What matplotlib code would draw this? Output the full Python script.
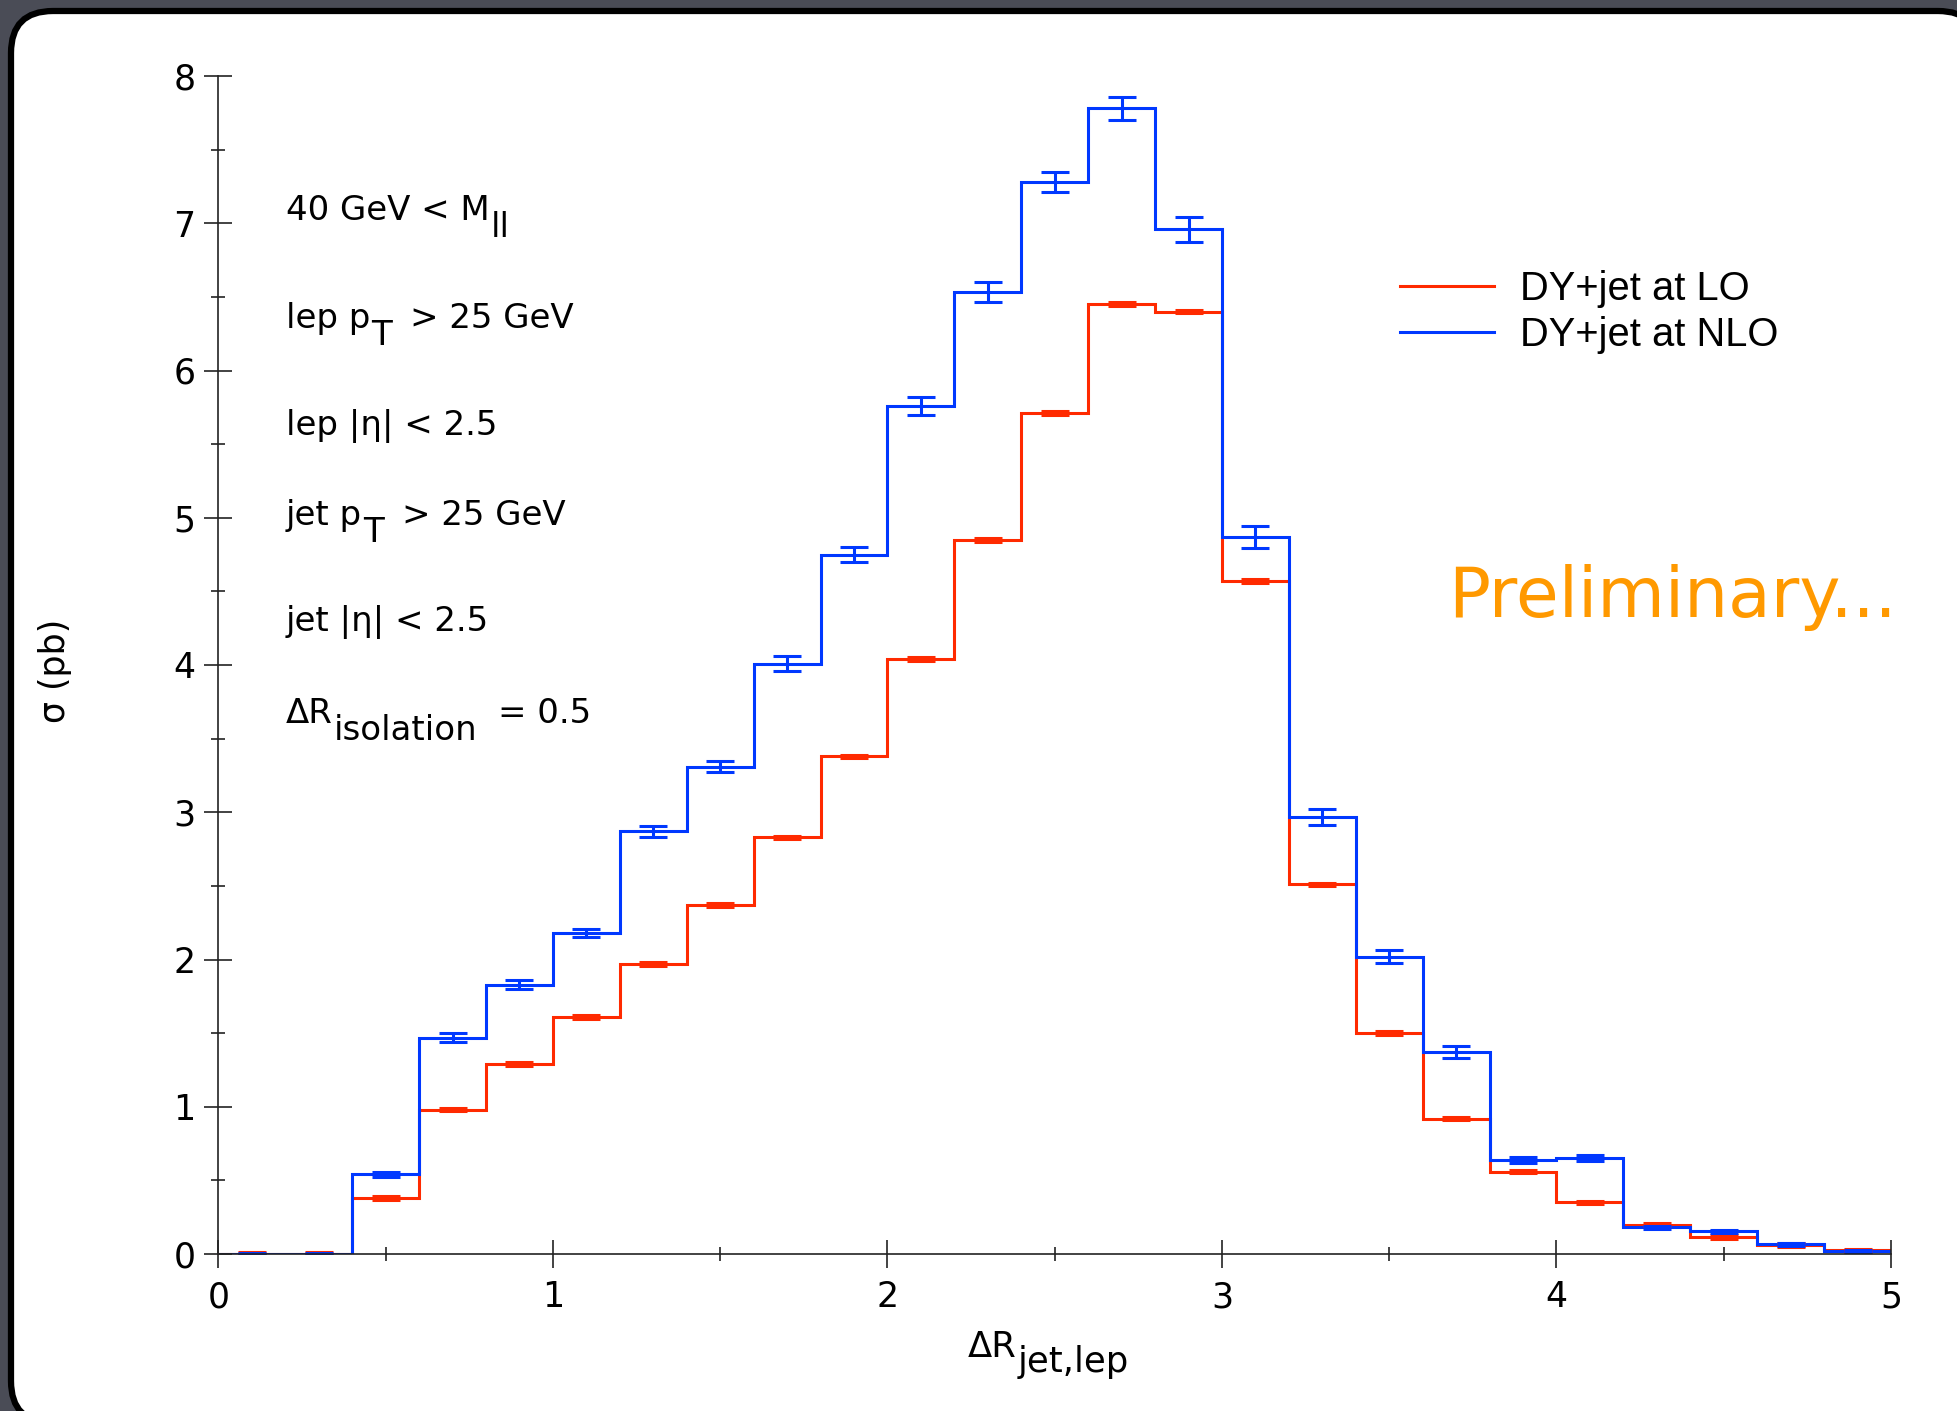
import numpy as np
import matplotlib
matplotlib.use("Agg")
import matplotlib.pyplot as plt
from matplotlib.patches import FancyBboxPatch
from matplotlib.transforms import IdentityTransform
from matplotlib.ticker import MultipleLocator

W, H = 1957, 1411

# bins in Delta R(jet, lep)
bin_edges = [0.0, 0.2, 0.4, 0.6, 0.8, 1.0, 1.2, 1.4, 1.6, 1.8, 2.0, 2.2, 2.4,
             2.6, 2.8, 3.0, 3.2, 3.4, 3.6, 3.8, 4.0, 4.2, 4.4, 4.6, 4.8, 5.0]

# sigma (pb) per bin
lo = [0.0, 0.0, 0.38, 0.98, 1.29, 1.61, 1.97, 2.37, 2.83, 3.38, 4.04, 4.85, 5.71,
      6.45, 6.40, 4.57, 2.51, 1.50, 0.92, 0.56, 0.35, 0.20, 0.115, 0.06, 0.025]
lo_err = [0.012, 0.012, 0.012, 0.012, 0.012, 0.012, 0.012, 0.012, 0.012, 0.012, 0.012, 0.012, 0.012,
          0.012, 0.012, 0.012, 0.012, 0.012, 0.012, 0.012, 0.012, 0.012, 0.012, 0.012, 0.012]

nlo = [0.0, 0.0, 0.54, 1.47, 1.83, 2.18, 2.87, 3.31, 4.01, 4.75, 5.76, 6.53, 7.28,
       7.78, 6.96, 4.87, 2.97, 2.02, 1.37, 0.64, 0.65, 0.18, 0.155, 0.065, 0.02]
nlo_err = [0.01, 0.01, 0.02, 0.03, 0.03, 0.03, 0.04, 0.04, 0.05, 0.05, 0.06, 0.068, 0.069,
           0.077, 0.085, 0.076, 0.055, 0.045, 0.04, 0.02, 0.02, 0.012, 0.01, 0.008, 0.008]

labels = ["DY+jet at LO", "DY+jet at NLO"]
RED = "#ff2a00"
BLUE = "#0038ff"

fig = plt.figure(figsize=(W / 100, H / 100), dpi=100)
fig.patch.set_facecolor("#4a4c56")

# white slide panel with rounded corners (pixel coords)
panel = FancyBboxPatch((11, -12), 1969, 1412, boxstyle="round,pad=0,rounding_size=42",
                       fc="white", ec="black", lw=4.5, transform=IdentityTransform(), zorder=-5)
fig.add_artist(panel)

ax = fig.add_axes([218.4 / W, 1 - 1254 / H, (1891 - 218.4) / W, (1254 - 76) / H])
ax.patch.set_visible(False)
for s in ["top", "right"]:
    ax.spines[s].set_visible(False)
for s in ["left", "bottom"]:
    ax.spines[s].set_linewidth(1.2)
    ax.spines[s].set_color("#222222")

edges = np.array(bin_edges)
centers = (edges[:-1] + edges[1:]) / 2

h_lo = ax.stairs(lo, edges, color=RED, lw=2.2)
ax.errorbar(centers, lo, yerr=lo_err, fmt="none", ecolor=RED, elinewidth=2.2,
            capsize=10, capthick=2.2)
h_nlo = ax.stairs(nlo, edges, color=BLUE, lw=2.2)
ax.errorbar(centers, nlo, yerr=nlo_err, fmt="none", ecolor=BLUE, elinewidth=2.2,
            capsize=10, capthick=2.2)

ax.set_xlim(0, 5)
ax.set_ylim(0, 8)
ax.xaxis.set_major_locator(MultipleLocator(1))
ax.xaxis.set_minor_locator(MultipleLocator(0.5))
ax.yaxis.set_major_locator(MultipleLocator(1))
ax.yaxis.set_minor_locator(MultipleLocator(0.5))
ax.tick_params(which="major", direction="inout", length=20, width=1.2, color="#222222",
               labelsize=25)
ax.tick_params(which="minor", direction="inout", length=9.5, width=1.2, color="#222222")
ax.tick_params(axis="y", which="major", pad=6.5)
ax.tick_params(axis="x", which="major", pad=9)

ax.set_ylabel("σ (pb)", fontsize=25)
ax.yaxis.set_label_coords(-0.0875, 0.495)

ax.legend([h_lo, h_nlo], labels, loc="upper left", bbox_to_anchor=(1400 / W, 1 - 270 / H),
          bbox_transform=fig.transFigure, frameon=False, handlelength=2.37,
          handletextpad=0.63, labelspacing=0.2, borderpad=0, borderaxespad=0,
          prop={"family": "Liberation Sans", "size": 28.7})

renderer = fig.canvas.get_renderer()


def chain_text(x, y, pieces, size, drop):
    # pieces: (text, is_subscript, gap_before_px); x, y in image pixels
    for s, sub, gap in pieces:
        x += gap
        yy = y + (drop if sub else 0)
        t = fig.text(x / W, 1 - yy / H, s, fontsize=size, ha="left", va="baseline")
        x = t.get_window_extent(renderer).x1


cuts = [
    (220, [("40 GeV < M", False, 0), ("ll", True, 1)]),
    (328, [("lep p", False, 0), ("T", True, 1), ("> 25 GeV", False, 18)]),
    (435, [("lep |η| < 2.5", False, 0)]),
    (525, [("jet p", False, 0), ("T", True, 1), ("> 25 GeV", False, 18)]),
    (631, [("jet |η| < 2.5", False, 0)]),
    (723, [("ΔR", False, 0), ("isolation", True, 1), ("= 0.5", False, 21)]),
]
for y, pieces in cuts:
    chain_text(286, y, pieces, 24.5, 17)

chain_text(968, 1357, [("ΔR", False, 0), ("jet,lep", True, 1)], 25.5, 15)

fig.text(1448 / W, 1 - 617 / H, "Preliminary...", color="#ff9900", fontsize=50,
         ha="left", va="baseline")

fig.savefig("out.png", dpi=100, facecolor=fig.get_facecolor())
